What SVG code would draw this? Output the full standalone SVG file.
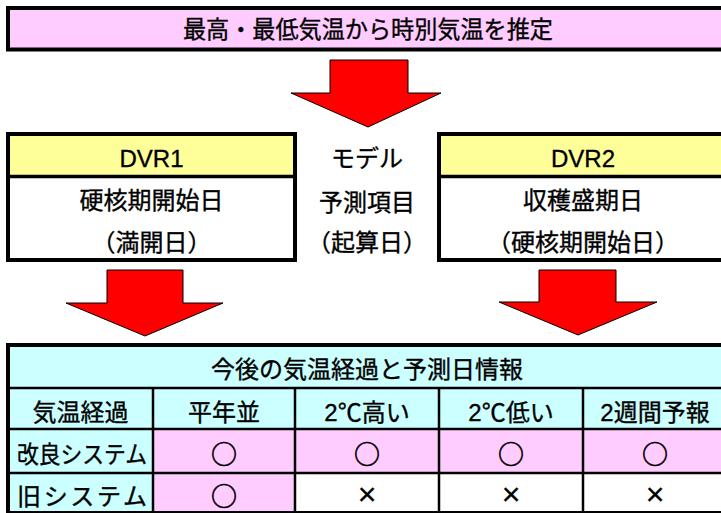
<svg xmlns="http://www.w3.org/2000/svg" width="721" height="513" viewBox="0 0 721 513">
<style>
.t{font-family:"Liberation Sans","Noto Sans CJK JP",sans-serif;font-size:24px;fill:#000;stroke:#000;stroke-width:0.35;text-anchor:middle}
.c{font-family:"Noto Sans CJK JP",sans-serif;font-size:26px;fill:#000;stroke:#000;stroke-width:0.6;text-anchor:middle}
.x{font-family:"Liberation Sans",sans-serif;font-size:32px;fill:#000;stroke:#000;stroke-width:0.3;text-anchor:middle}
.box{stroke:#000;stroke-width:4}
.ln{stroke:#000;stroke-width:2.5}
.arrow{fill:#FF0000;stroke:#000;stroke-width:1;stroke-linejoin:miter}
</style>
<rect width="721" height="513" fill="#fff"/>

<g id="title">
<rect class="box" x="8" y="8" width="730" height="41.5" fill="#FFCCFF"/>
<text class="t" x="368" y="38" font-size="26" textLength="370" lengthAdjust="spacingAndGlyphs">最高・最低気温から時別気温を推定</text>
</g>

<g id="connectors">
<polygon class="arrow" points="330,60 408,60 408,93 441,93 368,127 291,93 330,93"/>
<polygon class="arrow" points="107,270 183,270 183,303 223,303 145,336 66,303 107,303"/>
<polygon class="arrow" points="539,270 616,270 616,302 657,302 578,335 499,302 539,302"/>
</g>

<g id="dvr1">
<rect x="8" y="134" width="287" height="42.5" fill="#FFFF99"/>
<rect x="8" y="176.5" width="287" height="83.5" fill="#fff"/>
<rect class="box" x="8" y="134" width="287" height="126" fill="none"/>
<line x1="8" y1="176.5" x2="295" y2="176.5" stroke="#000" stroke-width="3.5"/>
<text class="t" x="151.5" y="166.5">DVR1</text>
<text class="t" x="151.5" y="209">硬核期開始日</text>
<text class="t" x="151.5" y="251">（満開日）</text>
</g>

<g id="model-label">
<text class="t" x="367" y="167">モデル</text>
<text class="t" x="367" y="211">予測項目</text>
<text class="t" x="367" y="251">（起算日）</text>
</g>

<g id="dvr2">
<rect x="439" y="134" width="300" height="42.5" fill="#FFFF99"/>
<rect x="439" y="176.5" width="300" height="83.5" fill="#fff"/>
<rect class="box" x="439" y="134" width="300" height="126" fill="none"/>
<line x1="439" y1="176.5" x2="739" y2="176.5" stroke="#000" stroke-width="3.5"/>
<text class="t" x="583" y="166.5">DVR2</text>
<text class="t" x="583" y="209">収穫盛期日</text>
<text class="t" x="583" y="251">（硬核期開始日）</text>
</g>

<g id="table">
<rect x="8" y="345" width="740" height="84" fill="#CCFFFF"/>
<rect x="8" y="429" width="145" height="84" fill="#CCFFFF"/>
<rect x="153" y="429" width="595" height="44" fill="#FFCCFF"/>
<rect x="153" y="473" width="142" height="40" fill="#FFCCFF"/>
<rect x="295" y="473" width="453" height="40" fill="#fff"/>
<line class="ln" x1="8" y1="388" x2="748" y2="388"/>
<line class="ln" x1="8" y1="429" x2="748" y2="429"/>
<line class="ln" x1="8" y1="473" x2="748" y2="473" stroke-width="3"/>
<line class="ln" x1="153" y1="388" x2="153" y2="513"/>
<line class="ln" x1="295" y1="388" x2="295" y2="513"/>
<line class="ln" x1="439" y1="388" x2="439" y2="513"/>
<line class="ln" x1="583" y1="388" x2="583" y2="513"/>
<rect class="box" x="8" y="345" width="740" height="168" fill="none"/>
<text class="t" x="367" y="378">今後の気温経過と予測日情報</text>
<text class="t" x="80.5" y="421">気温経過</text>
<text class="t" x="224" y="421">平年並</text>
<text class="t" x="367" y="421">2℃高い</text>
<text class="t" x="511" y="421">2℃低い</text>
<text class="t" x="655" y="421">2週間予報</text>
<text class="t" x="82" y="463" textLength="130" lengthAdjust="spacingAndGlyphs">改良システム</text>
<text class="c" x="224" y="464">○</text>
<text class="c" x="367" y="464">○</text>
<text class="c" x="511" y="464">○</text>
<text class="c" x="655" y="464">○</text>
<text class="t" x="82" y="505" textLength="130" lengthAdjust="spacing">旧システム</text>
<text class="c" x="224" y="506">○</text>
<text class="x" x="367" y="505">×</text>
<text class="x" x="511" y="505">×</text>
<text class="x" x="655" y="505">×</text>
</g>
</svg>
